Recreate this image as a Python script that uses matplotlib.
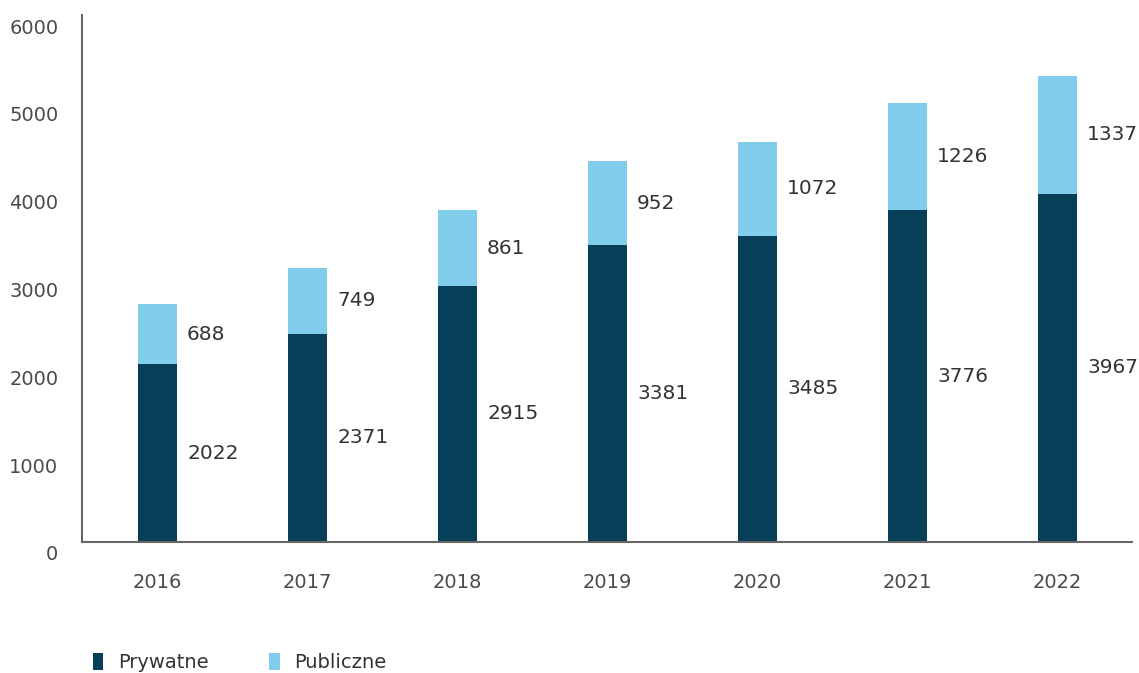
import numpy as np
import matplotlib.pyplot as plt
from matplotlib.transforms import ScaledTranslation

# data
years = ["2016", "2017", "2018", "2019", "2020", "2021", "2022"]
prywatne = [2022, 2371, 2915, 3381, 3485, 3776, 3967]
publiczne = [688, 749, 861, 952, 1072, 1226, 1337]

dark = "#073e58"
light = "#80ceeb"
text_col = "#333333"
tick_col = "#4a4a4a"

fig = plt.figure(figsize=(11.39, 6.73), dpi=100)
ax = fig.add_axes([0.072, 0.1947, 0.9219, 0.7830])

x = np.arange(len(years))
w = 0.26
ax.bar(x, prywatne, width=w, color=dark, label="Prywatne")
ax.bar(x, publiczne, width=w, bottom=prywatne, color=light, label="Publiczne")

# value labels to the right of each segment
for i in range(len(years)):
    ax.text(x[i] + w / 2 + 0.07, prywatne[i] / 2, str(prywatne[i]),
            va="center", ha="left", fontsize=14.5, color=text_col)
    ax.text(x[i] + w / 2 + 0.07, prywatne[i] + publiczne[i] / 2, str(publiczne[i]),
            va="center", ha="left", fontsize=14.5, color=text_col)

ax.set_xlim(-0.5, 6.5)
ax.set_ylim(0, 6000)
ax.set_yticks(np.arange(0, 6001, 1000))
ax.set_xticks(x)
ax.set_xticklabels(years)

for s in ["top", "right"]:
    ax.spines[s].set_visible(False)
for s in ["left", "bottom"]:
    ax.spines[s].set_color("#666666")
    ax.spines[s].set_linewidth(1.5)

ax.tick_params(axis="y", length=0, pad=17, labelsize=14, labelcolor=tick_col)
ax.tick_params(axis="x", length=0, pad=22, labelsize=14, labelcolor=tick_col)

# y labels sit slightly below their gridline value
shift = ScaledTranslation(0, -11 / 100, fig.dpi_scale_trans)
for lab in ax.get_yticklabels():
    lab.set_transform(lab.get_transform() + shift)

fig.legend(loc="lower left", bbox_to_anchor=(0.066, -0.025), ncol=2, frameon=False,
           fontsize=14, handlelength=0.55, handleheight=1.0, handletextpad=0.75,
           columnspacing=3.1, labelcolor=text_col)

fig.savefig("out.png", dpi=100)
